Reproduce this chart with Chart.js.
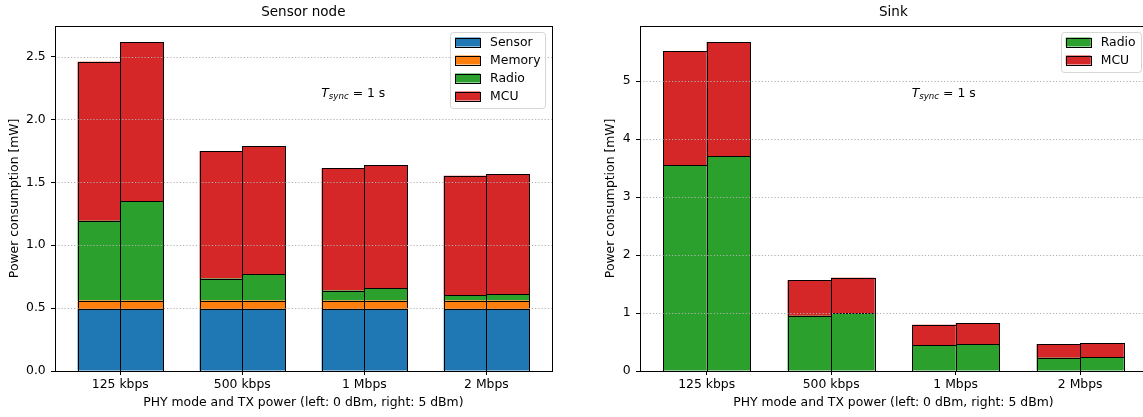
<!DOCTYPE html>
<html>
<head>
<meta charset="utf-8">
<script src="https://cdn.jsdelivr.net/npm/chart.js@4.4.1/dist/chart.umd.min.js"></script>
<style>
html, body { margin: 0; padding: 0; background: #fff; overflow: hidden; }
#wrap { position: relative; width: 1143px; height: 417px; overflow: hidden; }
#nodeBox { position: absolute; left: 0; top: 0; width: 575px; height: 417px; }
#sinkBox { position: absolute; left: 575px; top: 0; width: 580px; height: 417px; }
</style>
</head>
<body>
<div id="wrap">
  <div id="nodeBox"><canvas id="node"></canvas></div>
  <div id="sinkBox"><canvas id="sink"></canvas></div>
</div>
<script>
var categories = ['125 kbps', '500 kbps', '1 Mbps', '2 Mbps'];

// sensor node, "0" = left bar (0 dBm), "5" = right bar (5 dBm)
var nodeSensor0 = [0.49, 0.49, 0.49, 0.49];
var nodeSensor5 = [0.49, 0.49, 0.49, 0.49];
var nodeMemory0 = [0.07, 0.07, 0.07, 0.07];
var nodeMemory5 = [0.07, 0.07, 0.07, 0.07];
var nodeRadio0 = [0.635, 0.175, 0.08, 0.045];
var nodeRadio5 = [0.79, 0.21, 0.10, 0.05];
var nodeMcu0 = [1.265, 1.015, 0.973, 0.948];
var nodeMcu5 = [1.265, 1.02, 0.975, 0.953];

// sink
var sinkRadio0 = [3.555, 0.954, 0.449, 0.23];
var sinkRadio5 = [3.71, 1.0, 0.466, 0.242];
var sinkMcu0 = [1.963, 0.617, 0.35, 0.236];
var sinkMcu5 = [1.963, 0.61, 0.357, 0.241];

var nodeTicks = [0, 0.5, 1, 1.5, 2, 2.5];
var nodeTickLabels = ['0.0', '0.5', '1.0', '1.5', '2.0', '2.5'];
var sinkTicks = [0, 1, 2, 3, 4, 5];
var sinkTickLabels = ['0', '1', '2', '3', '4', '5'];

var FONT = 'DejaVu Sans';
var FS = 12.4;
Chart.defaults.font.family = FONT;
Chart.defaults.font.size = FS;
Chart.defaults.color = '#000';

var GROUP = 0.7;   // width of a bar pair, in category units
var xMin = -(GROUP / 2 + 0.05 * (categories.length - 1 + GROUP));
var xMax = categories.length - 1 - xMin;

function makeSets(series) {
    var sets = [];
    series.forEach(function (s) {
        [['left', s.v0], ['right', s.v5]].forEach(function (p) {
            sets.push({
                label: s.label,
                stack: p[0],
                backgroundColor: s.color,
                borderWidth: 0,
                categoryPercentage: GROUP,
                barPercentage: 1,
                data: p[1].map(function (v, i) { return { x: i, y: v }; })
            });
        });
    });
    return sets;
}

function totalsMax(series) {
    var m = 0;
    ['v0', 'v5'].forEach(function (k) {
        categories.forEach(function (c, i) {
            var t = 0;
            series.forEach(function (s) { t += s[k][i]; });
            m = Math.max(m, t);
        });
    });
    return m * 1.05;
}

function makeDeco(items) {
    return {
        id: 'mplDeco',
        afterDatasetsDraw: function (chart) {
            var ctx = chart.ctx, a = chart.chartArea, y = chart.scales.y;
            ctx.save();

            // black bar edges, snapped to the pixel grid
            ctx.strokeStyle = '#000';
            ctx.lineWidth = 1;
            chart.getSortedVisibleDatasetMetas().forEach(function (meta) {
                meta.data.forEach(function (bar) {
                    var p = bar.getProps(['x', 'y', 'base', 'width'], true);
                    var l = Math.round(p.x - p.width / 2), r = Math.round(p.x + p.width / 2);
                    var t = Math.round(Math.min(p.y, p.base)), b = Math.round(Math.max(p.y, p.base));
                    ctx.strokeRect(l + 0.5, t + 0.5, r - l, b - t);
                });
            });

            // dotted grid, drawn over the bars
            ctx.strokeStyle = '#b0b0b0';
            ctx.lineWidth = 1;
            ctx.setLineDash([1.2, 2]);
            y.ticks.forEach(function (t) {
                if (t.value === 0) return;
                var py = Math.round(y.getPixelForValue(t.value)) + 0.5;
                ctx.beginPath();
                ctx.moveTo(a.left, py);
                ctx.lineTo(a.right, py);
                ctx.stroke();
            });
            ctx.setLineDash([]);

            // frame
            ctx.strokeStyle = '#000';
            ctx.lineWidth = 1;
            var l = Math.round(a.left) + 0.5, t = Math.round(a.top) + 0.5;
            ctx.strokeRect(l, t, Math.round(a.right) - Math.round(a.left), Math.round(a.bottom) - Math.round(a.top));

            // T_sync note
            var nx = a.left + 0.536 * (a.right - a.left);
            var ny = a.top + 0.206 * (a.bottom - a.top);
            ctx.fillStyle = '#000';
            ctx.textBaseline = 'alphabetic';
            ctx.textAlign = 'left';
            ctx.font = 'italic ' + FS + 'px "' + FONT + '"';
            ctx.fillText('T', nx, ny);
            nx += ctx.measureText('T').width;
            ctx.font = 'italic ' + (FS * 0.7) + 'px "' + FONT + '"';
            ctx.fillText('sync', nx, ny + 2.6);
            nx += ctx.measureText('sync').width;
            ctx.font = FS + 'px "' + FONT + '"';
            ctx.fillText(' = 1 s', nx, ny);

            // legend, upper right
            ctx.font = FS + 'px "' + FONT + '"';
            var tw = 0;
            items.forEach(function (it) { tw = Math.max(tw, ctx.measureText(it.label).width); });
            var bw = 5 + 25 + 10 + tw + 5;
            var bh = 18 * items.length + 4;
            var bx = a.right - 6.2 - bw, by = a.top + 6.6;
            ctx.beginPath();
            ctx.roundRect(Math.round(bx) + 0.5, Math.round(by) + 0.5, Math.round(bw), Math.round(bh), 3);
            ctx.fillStyle = 'rgba(255,255,255,0.8)';
            ctx.fill();
            ctx.strokeStyle = 'rgba(204,204,204,0.8)';
            ctx.stroke();
            items.forEach(function (it, i) {
                var cy = by + 9.7 + 18 * i;
                ctx.fillStyle = it.color;
                ctx.fillRect(bx + 5, cy - 4.5, 25, 9);
                ctx.strokeStyle = '#000';
                ctx.strokeRect(Math.round(bx + 5) + 0.5, Math.round(cy - 4.5) + 0.5, 25, 9);
                ctx.fillStyle = '#000';
                ctx.textBaseline = 'middle';
                ctx.fillText(it.label, bx + 40, cy + 0.5);
            });
            ctx.restore();
        }
    };
}

function makeChart(id, title, series, ticks, tickLabels, yWidth, padRight, yTitlePad) {
    var items = series.map(function (s) { return { label: s.label, color: s.color }; });
    return new Chart(document.getElementById(id), {
        type: 'bar',
        data: { datasets: makeSets(series) },
        plugins: [makeDeco(items)],
        options: {
            responsive: true,
            maintainAspectRatio: false,
            animation: false,
            events: [],
            layout: { padding: { left: 0, top: 0, bottom: 0, right: padRight } },
            plugins: {
                legend: { display: false },
                tooltip: { enabled: false },
                title: {
                    display: true,
                    text: title,
                    fullSize: false,
                    color: '#000',
                    font: { size: 13.5, weight: 'normal' },
                    padding: { top: 3.9, bottom: 5.6 }
                }
            },
            scales: {
                x: {
                    type: 'linear',
                    min: xMin,
                    max: xMax,
                    bounds: 'data',
                    offset: false,
                    afterBuildTicks: function (s) {
                        s.ticks = categories.map(function (c, i) { return { value: i }; });
                    },
                    afterFit: function (s) { s.height = 46; },
                    grid: { display: true, offset: false, drawOnChartArea: false, color: 'rgba(0,0,0,0)', tickColor: '#000', tickLength: 4, tickWidth: 1 },
                    border: { display: false },
                    ticks: {
                        padding: 2.6,
                        maxRotation: 0,
                        autoSkip: false,
                        color: '#000',
                        callback: function (v) { return categories[v]; }
                    },
                    title: {
                        display: true,
                        text: 'PHY mode and TX power (left: 0 dBm, right: 5 dBm)',
                        color: '#000',
                        padding: { top: 6.6, bottom: 6.6 }
                    }
                },
                y: {
                    stacked: true,
                    min: 0,
                    max: totalsMax(series),
                    afterBuildTicks: function (s) {
                        s.ticks = ticks.map(function (v) { return { value: v }; });
                    },
                    afterFit: function (s) { s.width = yWidth; },
                    grid: { display: true, drawOnChartArea: false, color: 'rgba(0,0,0,0)', tickColor: '#000', tickLength: 4, tickWidth: 1 },
                    border: { display: false },
                    ticks: {
                        padding: 5.3,
                        autoSkip: false,
                        color: '#000',
                        callback: function (v, i) { return tickLabels[i]; }
                    },
                    title: {
                        display: true,
                        text: 'Power consumption [mW]',
                        color: '#000',
                        padding: { top: yTitlePad, bottom: yTitlePad }
                    }
                }
            }
        }
    });
}

var nodeSeries = [
    { label: 'Sensor', color: '#1f77b4', v0: nodeSensor0, v5: nodeSensor5 },
    { label: 'Memory', color: '#ff7f0e', v0: nodeMemory0, v5: nodeMemory5 },
    { label: 'Radio', color: '#2ca02c', v0: nodeRadio0, v5: nodeRadio5 },
    { label: 'MCU', color: '#d62728', v0: nodeMcu0, v5: nodeMcu5 }
];
var sinkSeries = [
    { label: 'Radio', color: '#2ca02c', v0: sinkRadio0, v5: sinkRadio5 },
    { label: 'MCU', color: '#d62728', v0: sinkMcu0, v5: sinkMcu5 }
];

window.nodeChart = makeChart('node', 'Sensor node', nodeSeries, nodeTicks, nodeTickLabels, 55, 23.3, 7.6);
window.sinkChart = makeChart('sink', 'Sink', sinkSeries, sinkTicks, sinkTickLabels, 65, 8.2, 28.6);
</script>
</body>
</html>
